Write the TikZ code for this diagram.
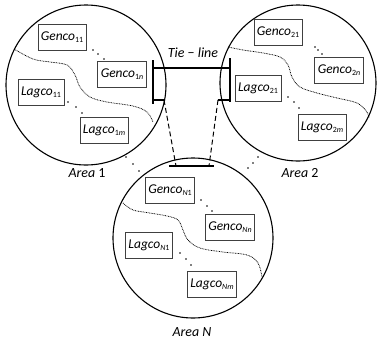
\documentclass[tikz,border=0pt]{standalone}
\usepackage{fontspec}
\setmainfont{Carlito}
\newcommand\sbs[1]{\raisebox{-2.5bp}{\fontsize{8}{8}\selectfont\upshape #1}}
\begin{document}
\begin{tikzpicture}[x=1bp,y=-1bp,
  area/.style={circle,draw,line width=1.1bp,minimum size=160bp,inner sep=0},
  agent/.style={draw=black!75,line width=0.7bp,minimum height=26bp,inner xsep=3bp,inner ysep=2bp,font=\fontsize{13.5}{14}\selectfont\itshape},
  lbl/.style={font=\fontsize{14}{16}\selectfont},
  sepline/.style={dash pattern=on 0.8bp off 0.8bp,line width=0.75bp},
  tie/.style={line width=1.3bp},
  tiedash/.style={line width=1bp,dash pattern=on 5bp off 3bp},
  dotr/.style={fill}]
\useasboundingbox (0,0) rectangle (378,345);
% areas
\node[area] (a1) at (86,85) {};
\node[area,minimum size=156bp] (a2) at (298,83) {};
\node[area] (aN) at (193,238) {};
\node[lbl] (l1) at (87,173) {\textit{Area} 1};
\node[lbl] (l2) at (300,173) {\textit{Area} 2};
\node[lbl] (lN) at (192,332) {\textit{Area N}};
% area 1 agents
\node[agent] (g11) at (62,37) {Genco\sbs{11}};
\node[agent] (g1n) at (122,74) {Genco\sbs{1\textit{n}}};
\node[agent] (c11) at (41,92) {Lagco\sbs{11}};
\node[agent] (c1m) at (104,130) {Lagco\sbs{1\textit{m}}};
% area 2 agents
\node[agent] (g21) at (278,32) {Genco\sbs{21}};
\node[agent] (g2n) at (339,70) {Genco\sbs{2\textit{n}}};
\node[agent] (c21) at (258,88) {Lagco\sbs{21}};
\node[agent] (c2m) at (322,127) {Lagco\sbs{2\textit{m}}};
% area N agents
\node[agent] (gN1) at (170,190) {Genco\sbs{\textit{N}1}};
\node[agent] (gNn) at (230,227) {Genco\sbs{\textit{Nn}}};
\node[agent] (cN1) at (149,245) {Lagco\sbs{\textit{N}1}};
\node[agent] (cNm) at (212,284) {Lagco\sbs{\textit{Nm}}};
% dots
\foreach \p in {(93,50),(98,54),(104,59),(68,102),(76,107),(82,113),
                (315,47),(318,50),(322,54),(288,97),(294,102),(299,108),
                (201,200),(207,206),(212,211),(180,253),(186,259),(191,265),
                (126,157),(133,164),(139,171),(258,157),(253,163),(248,168)}
  \fill \p circle (0.9);
% separating curves
\draw[sepline] plot[smooth,tension=0.6] coordinates {(14,49) (33,59) (50,62) (67,65) (75,75) (80,87) (90,97) (107,102) (133,106) (147,112) (153,122)};
\draw[sepline] plot[smooth,tension=0.6] coordinates {(228,47) (243,50) (263,53) (280,57) (288,65) (292,77) (300,87) (317,93) (337,98) (357,103) (367,112) (369,118)};
\draw[sepline] plot[smooth,tension=0.6] coordinates {(123,203) (133,210) (150,213) (167,216) (178,220) (183,230) (188,240) (200,248) (223,252) (247,255) (258,263) (262,277)};
% tie-line
\coordinate (lt) at (153,60);
\coordinate (lb) at (153,104);
\coordinate (lh) at (153,68);
\coordinate (ls) at (153,100);
\coordinate (lse) at (164,100);
\coordinate (rt) at (230,58);
\coordinate (rb) at (230,102);
\coordinate (rh) at (230,68);
\coordinate (rs) at (230,100);
\coordinate (rse) at (218,100);
\coordinate (bl) at (169,166);
\coordinate (br) at (214,166);
\coordinate (bdl) at (176,166);
\coordinate (bdr) at (209,166);
\draw[tie] (lt) -- (lb);
\draw[tie] (rt) -- (rb);
\draw[tie] (lh) -- (rh);
\draw[tie] (ls) -- (lse);
\draw[tie] (rs) -- (rse);
\draw[tie] (bl) -- (br);
\draw[tiedash] (lse) -- (bdl);
\draw[tiedash] (rse) -- (bdr);
\node[lbl,font=\fontsize{14}{16}\selectfont\itshape] (tl) at (193,53) {Tie \upshape−\itshape{} line};
\end{tikzpicture}
\end{document}
